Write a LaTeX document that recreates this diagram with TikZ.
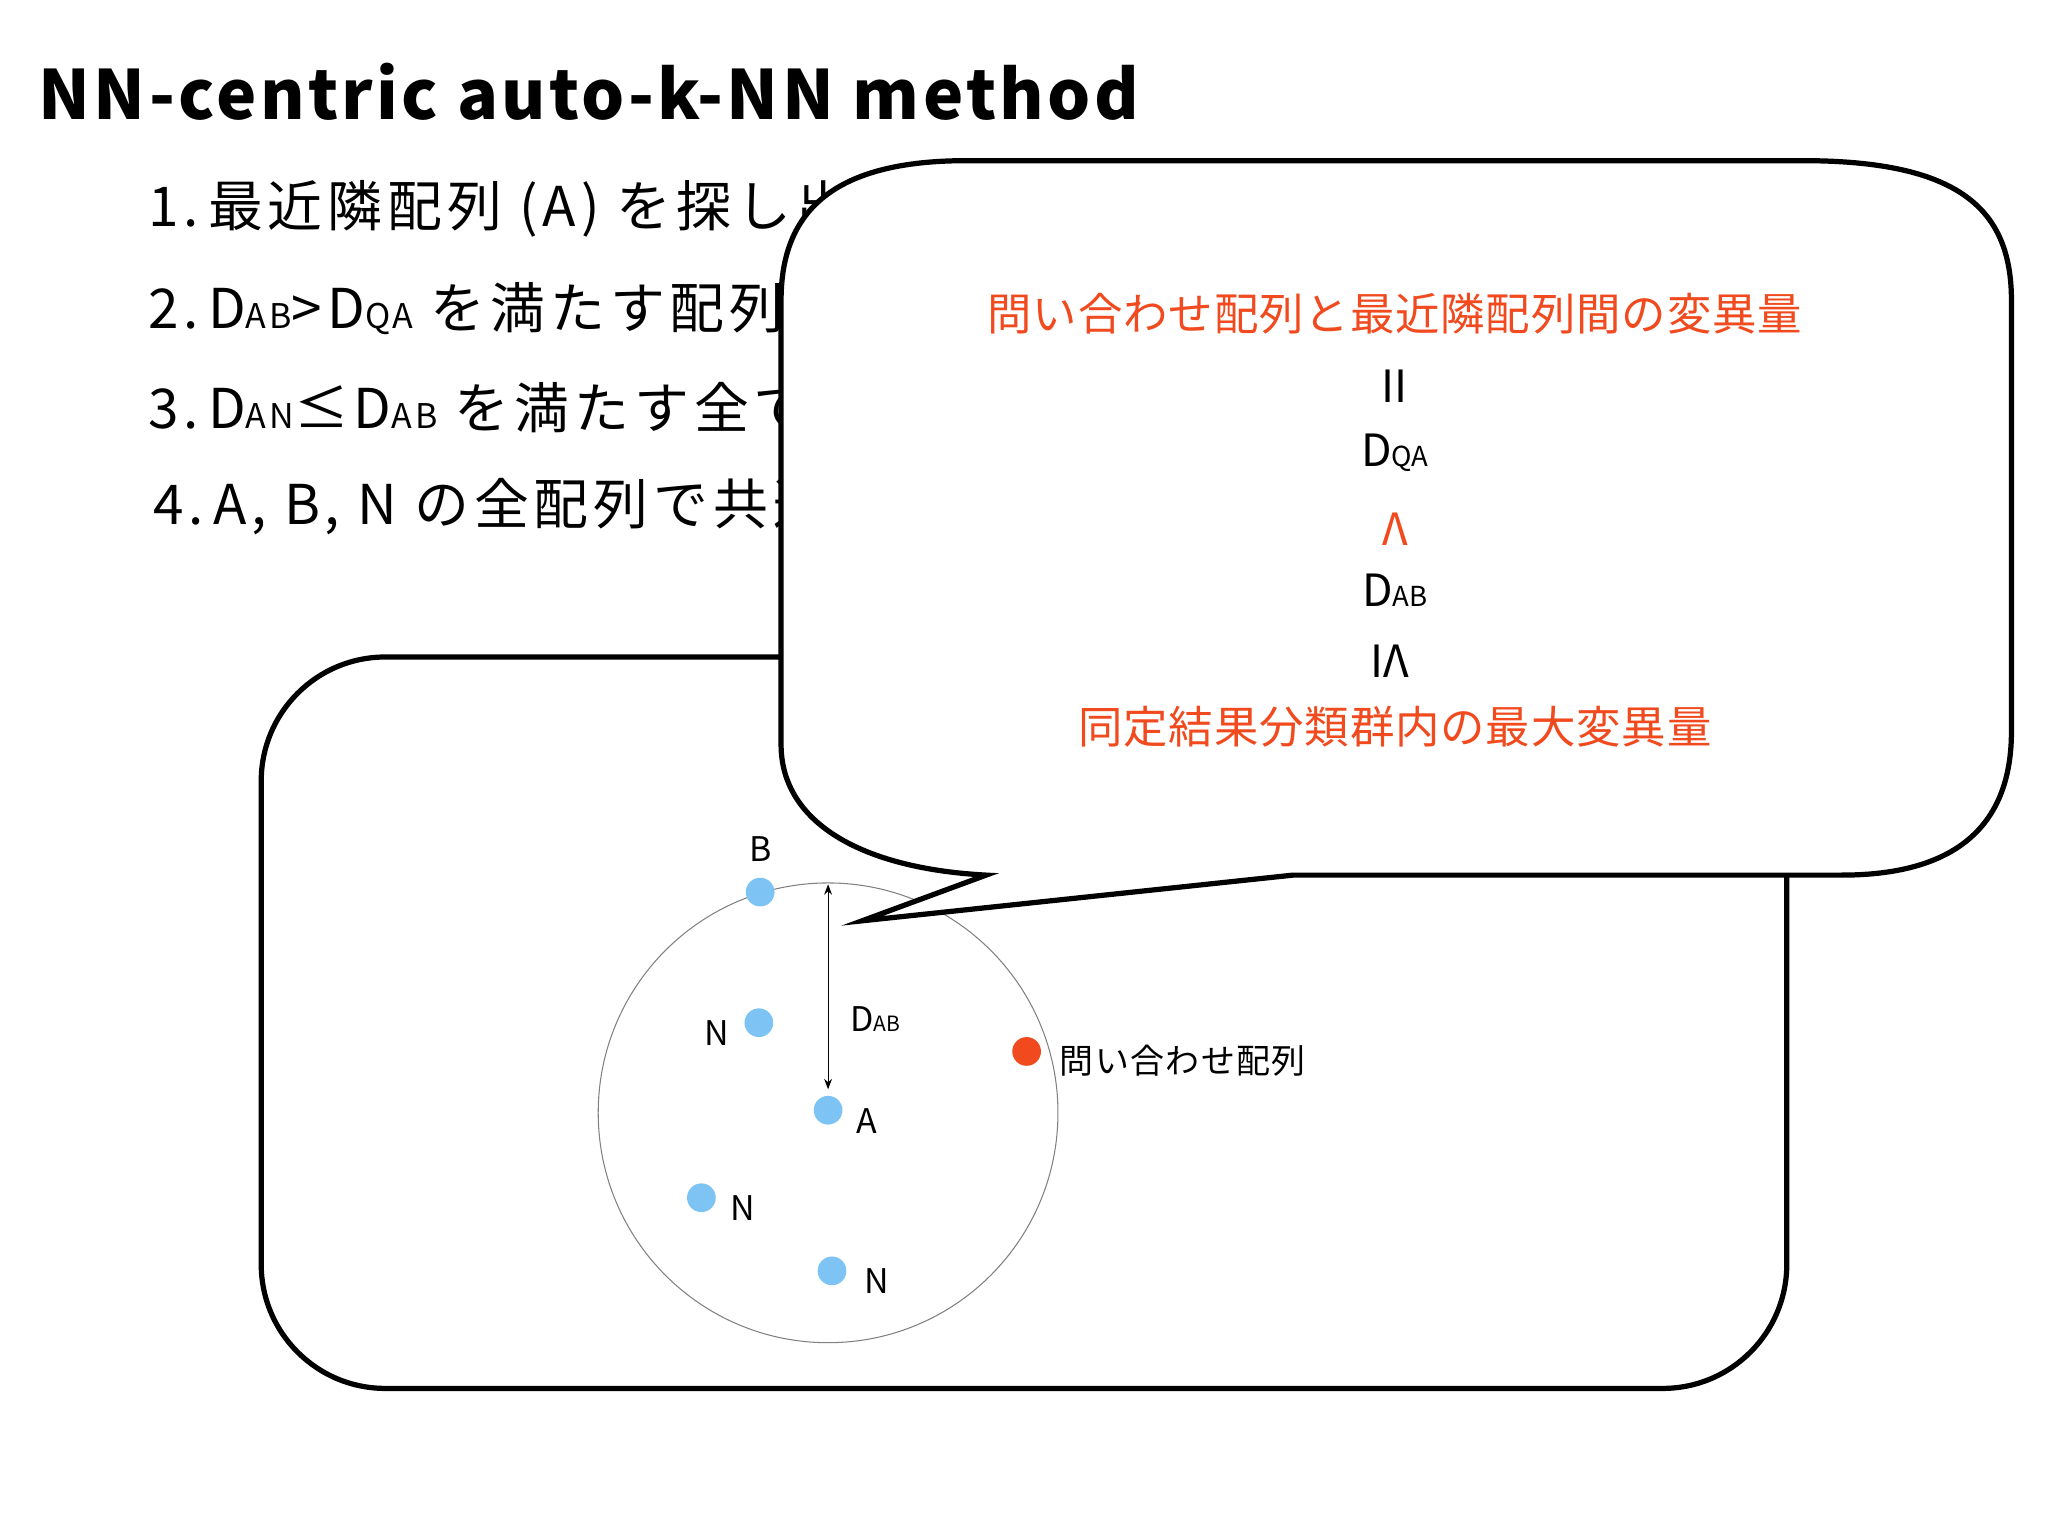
\documentclass[tikz,border=0pt]{standalone}
\usepackage{fontspec}
\setmainfont{Noto Sans CJK JP}
\usetikzlibrary{arrows.meta}
\definecolor{orng}{HTML}{F04A1E}
\definecolor{dotb}{HTML}{7DC4F5}
\newcommand{\Dx}[1]{D{\fontsize{0.62em}{0.62em}\selectfont #1}}
\tikzset{
  lst/.style={anchor=west,font=\fontsize{42}{44}\selectfont\addfontfeatures{LetterSpace=9}},
  lab/.style={font=\fontsize{26}{28}\selectfont},
  bt/.style={font=\fontsize{34}{36}\selectfont},
  pt/.style={circle,fill=dotb,inner sep=0pt,minimum size=22pt},
  box/.style={line width=4pt,draw=black}
}
\begin{document}
\begin{tikzpicture}[x=1pt,y=-1pt]
\useasboundingbox (0,0) rectangle (1568,1175);
\node[anchor=west,font=\fontsize{52}{54}\selectfont\bfseries\addfontfeatures{LetterSpace=5}] (title) at (26,70) {NN-centric auto-k-NN method};
\node[lst] (l1) at (110,160) {1.\,最近隣配列 (A) を探し出す};
\node[lst] (l2) at (110,236) {2.\,\Dx{AB}>\Dx{QA} を満たす配列};
\node[lst] (l3) at (110,312) {3.\,\Dx{AN}≤\Dx{AB} を満たす全ての};
\node[lst] (l4) at (114,388) {4.\,A, B, N の全配列で共通};
\draw[box,rounded corners=95pt] (200,503) rectangle (1368,1063);
\draw[gray,line width=0.8pt] (634,852) circle (176);
\node[pt] (B) at (582,683) {};
\node[pt] (N1) at (581,783) {};
\node[pt] (A) at (634,850) {};
\node[pt] (N2) at (537,917) {};
\node[pt] (N3) at (637,973) {};
\node[circle,fill=orng,inner sep=0pt,minimum size=22pt] (Q) at (786,805) {};
\node[lab] at (582,650) {B};
\node[lab] at (549,791) {N};
\node[lab] at (664,858) {A};
\node[lab] at (569,925) {N};
\node[lab] at (671,981) {N};
\node[lab,anchor=west,font=\fontsize{26}{28}\selectfont\addfontfeatures{LetterSpace=4}] at (808,812) {問い合わせ配列};
\node[lab] at (670,780) {\Dx{AB}};
\coordinate (t1) at (634,677);
\coordinate (t2) at (634,834);
\draw[{Stealth[length=8pt]}-{Stealth[length=8pt]},line width=0.8pt] (t1) -- (t2);
\draw[box,fill=white] (755,670) -- (660,705) -- (990,670) -- (1410,670)
  .. controls (1500,670) and (1540,630) .. (1540,560) -- (1540,230)
  .. controls (1540,160) and (1500,123) .. (1380,123) -- (740,123)
  .. controls (640,123) and (598,160) .. (598,230) -- (598,570)
  .. controls (598,630) and (660,665) .. (755,670) -- cycle;
\node[bt,text=orng,font=\fontsize{34}{36}\selectfont\addfontfeatures{LetterSpace=2}] at (1068,240) {問い合わせ配列と最近隣配列間の変異量};
\node[bt] at (1068,296) {II};
\node[bt] at (1068,347) {\Dx{QA}};
\node[bt,text=orng] at (1068,405) {Λ};
\node[bt] at (1068,452) {\Dx{AB}};
\node[bt] at (1064,506) {IΛ};
\node[bt,text=orng,font=\fontsize{34}{36}\selectfont\addfontfeatures{LetterSpace=2}] at (1068,556) {同定結果分類群内の最大変異量};
\end{tikzpicture}
\end{document}
